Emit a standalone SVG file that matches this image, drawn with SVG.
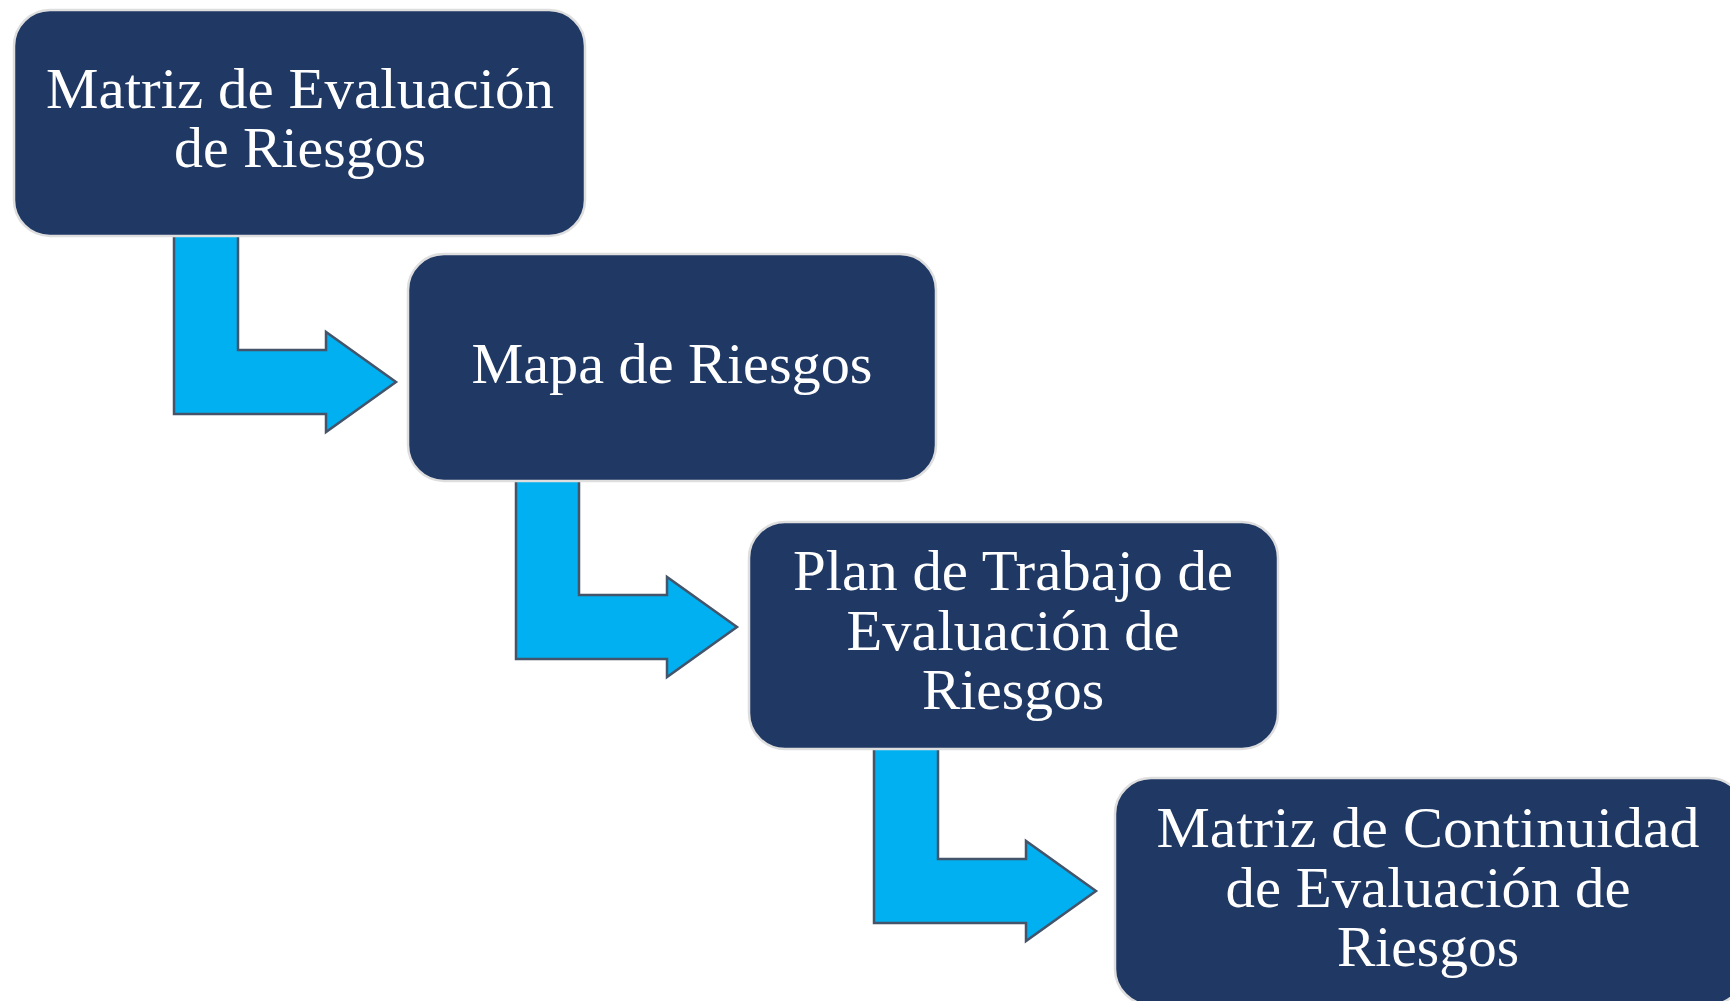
<svg xmlns="http://www.w3.org/2000/svg" width="1730" height="1001" viewBox="0 0 1730 1001">
<style>
.box{fill:#203864;stroke:#dedede;stroke-width:2.5}
.lbl{font-family:"Liberation Serif","DejaVu Serif",serif;font-size:56px;fill:#ffffff;text-anchor:middle}
.arr{fill:#00b0f0;stroke:#44546a;stroke-width:2.5;stroke-linejoin:miter}
</style>
<rect width="1730" height="1001" fill="#ffffff"/>
<g id="connectors">
<path class="arr" d="M174,234 L238,234 L238,350 L326,350 L326,332 L396,382 L326,432 L326,414 L174,414 Z"/>
<path class="arr" d="M516,479 L579,479 L579,595 L667,595 L667,577 L737,627 L667,677 L667,659 L516,659 Z"/>
<path class="arr" d="M874,747 L938,747 L938,859 L1026,859 L1026,841 L1096,891 L1026,941 L1026,923 L874,923 Z"/>
</g>
<g id="node1">
<rect class="box" x="14" y="10" width="571" height="226" rx="36"/>
<text class="lbl" x="300" y="108" textLength="508" lengthAdjust="spacingAndGlyphs">Matriz de Evaluación</text>
<text class="lbl" x="300" y="167" textLength="252" lengthAdjust="spacingAndGlyphs">de Riesgos</text>
</g>
<g id="node2">
<rect class="box" x="408" y="254" width="528" height="227" rx="36"/>
<text class="lbl" x="672" y="383" textLength="401" lengthAdjust="spacingAndGlyphs">Mapa de Riesgos</text>
</g>
<g id="node3">
<rect class="box" x="749" y="522" width="529" height="227" rx="36"/>
<text class="lbl" x="1013" y="590" textLength="440" lengthAdjust="spacingAndGlyphs">Plan de Trabajo de</text>
<text class="lbl" x="1013" y="650" textLength="333" lengthAdjust="spacingAndGlyphs">Evaluación de</text>
<text class="lbl" x="1013" y="709" textLength="182" lengthAdjust="spacingAndGlyphs">Riesgos</text>
</g>
<g id="node4">
<rect class="box" x="1115" y="778" width="630" height="227" rx="36"/>
<text class="lbl" x="1428" y="847" textLength="543" lengthAdjust="spacingAndGlyphs">Matriz de Continuidad</text>
<text class="lbl" x="1428" y="907" textLength="405" lengthAdjust="spacingAndGlyphs">de Evaluación de</text>
<text class="lbl" x="1428" y="966" textLength="182" lengthAdjust="spacingAndGlyphs">Riesgos</text>
</g>
</svg>
